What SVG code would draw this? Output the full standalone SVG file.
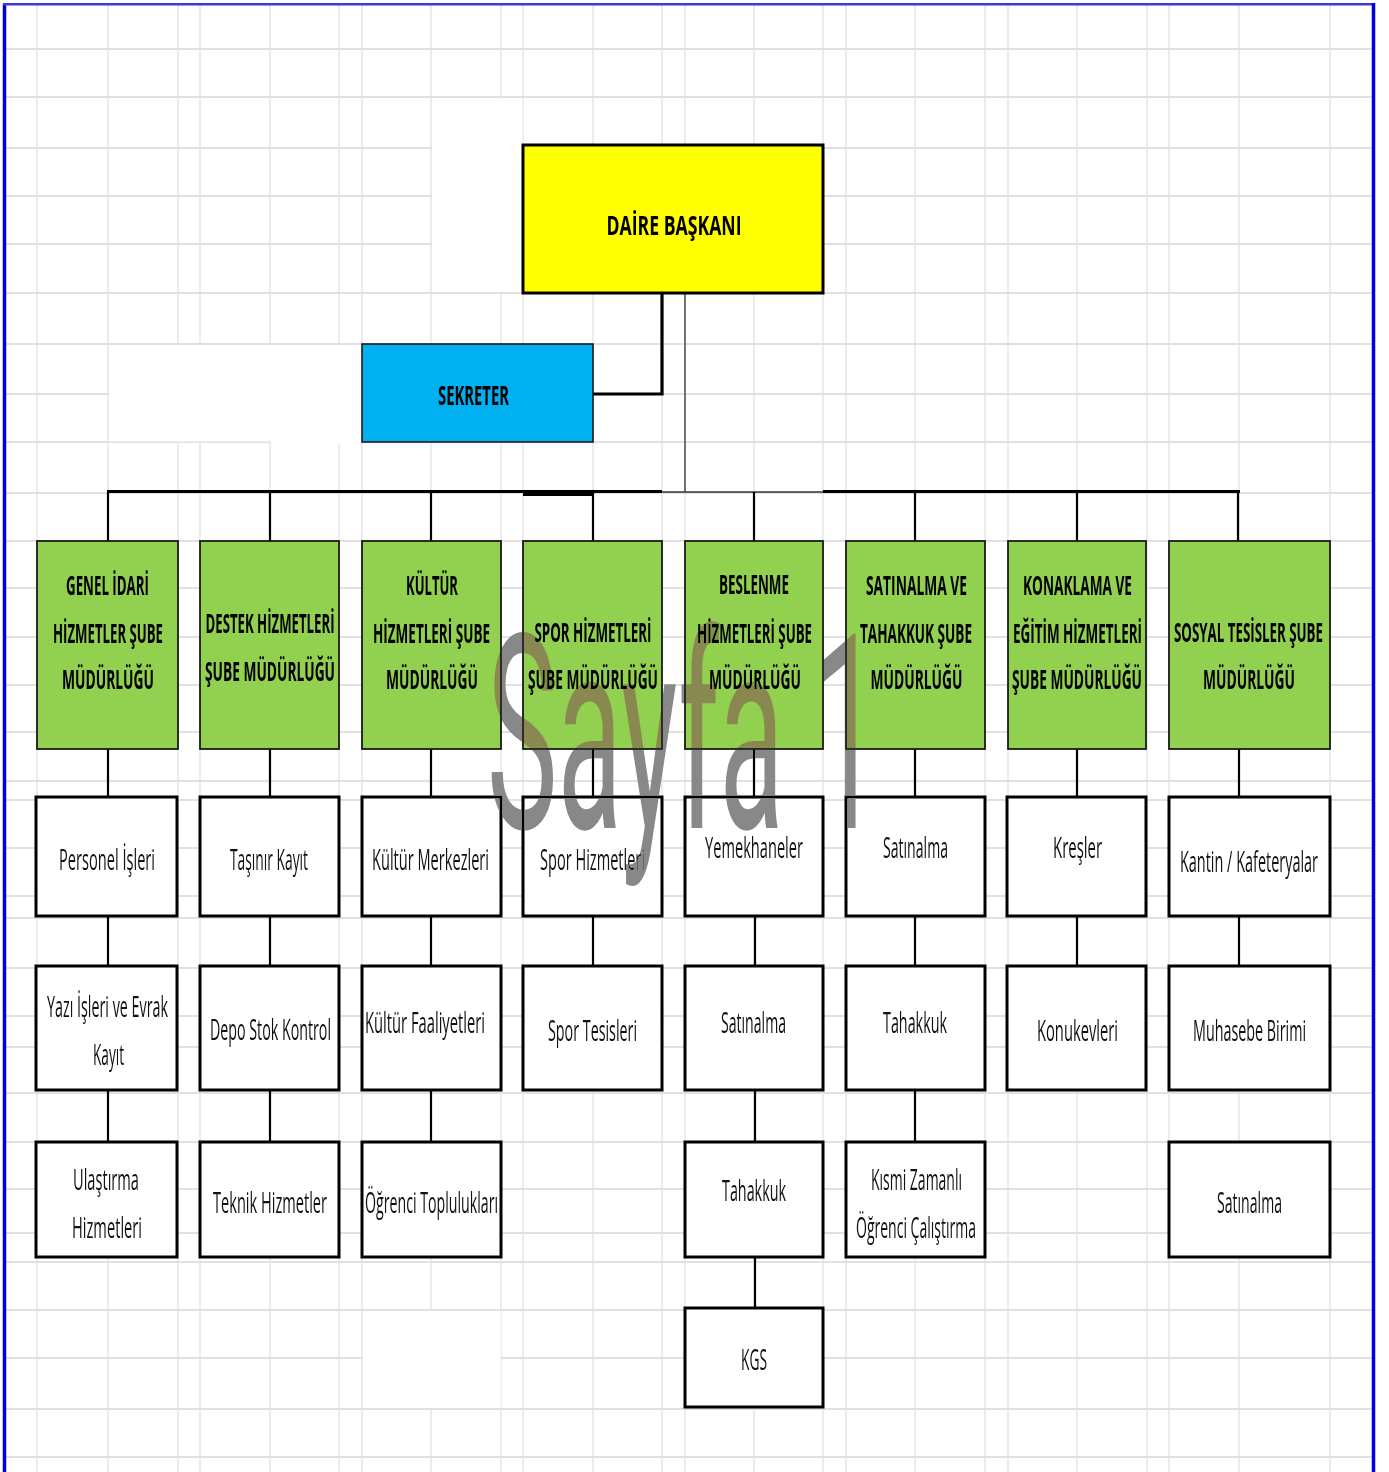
<svg xmlns="http://www.w3.org/2000/svg" width="1389" height="1472" viewBox="0 0 1389 1472">
<style>
.gh{stroke:#d8d8d8;stroke-width:1.6;fill:none}
.gv{stroke:#e0e0e0;stroke-width:1.2;fill:none}
.g{fill:#92d050;stroke:#1a1a1a;stroke-width:1.8}
.w{fill:#fff;stroke:#000;stroke-width:3}
.tb{font-family:"Open Sans","Liberation Sans",sans-serif;font-weight:700;font-size:27px;text-anchor:middle;fill:#000}
.tr{font-family:"Open Sans","Liberation Sans",sans-serif;font-weight:400;font-size:29px;text-anchor:middle;fill:#111}
.c{stroke:#000;stroke-width:2.2;fill:none}
.ck{stroke:#000;stroke-width:3.2;fill:none}
.cn{stroke:#333;stroke-width:1.3;fill:none}
.wm{font-family:Roboto,"Liberation Sans",sans-serif;font-weight:400;font-size:272px;fill:#888;mix-blend-mode:darken}
</style>
<rect x="0" y="0" width="1389" height="1472" fill="#fff"/>
<g id="grid">
<path class="gh" d="M5 49H1373M5 97H1373M5 148H1373M5 196H1373M5 244H1373M5 293H1373M5 344H1373M5 394H1373M5 442H1373M5 493H1373M5 541H1373M5 588H1373M5 637H1373M5 685H1373M5 732H1373M5 781H1373M5 800H1373M5 848H1373M5 896H1373M5 918H1373M5 968H1373M5 1016H1373M5 1047H1373M5 1093H1373M5 1142H1373M5 1189H1373M5 1233H1373M5 1262H1373M5 1310H1373M5 1358H1373M5 1409H1373M5 1457H1373"/>
<path class="gv" d="M37 4V1472M108 4V1472M178 4V1472M200 4V1472M270 4V1472M339 4V1472M362 4V1472M431 4V1472M501 4V1472M523 4V1472M593 4V1472M662 4V1472M685 4V1472M754 4V1472M823 4V1472M846 4V1472M915 4V1472M985 4V1472M1008 4V1472M1077 4V1472M1147 4V1472M1169 4V1472M1239 4V1472M1330 4V1472"/>
<rect x="432" y="98.5" width="90.5" height="193.5" fill="#fff"/>
<rect x="109" y="345" width="252.5" height="96.5" fill="#fff"/>
<rect x="271" y="440" width="90.5" height="4" fill="#fff"/>
<rect x="363" y="1311" width="137.5" height="97" fill="#fff"/>
</g>
<g id="frame" fill="none">
<path d="M4.5 4V1472" stroke="#0000d8" stroke-width="3.5"/>
<path d="M3 4.3H1375" stroke="#3a3ae0" stroke-width="2.6"/>
<path d="M1373.5 3V1472" stroke="#0000d8" stroke-width="3.5"/>
</g>
<g id="connectors">
<path class="ck" d="M662 293V394H593"/>
<path class="cn" d="M685 293V492M662 492H823"/>
<path class="ck" d="M107 491.5H662M823 491.5H1240"/>
<rect x="523" y="490" width="70" height="6" fill="#000"/>
<path class="c" d="M108 492V541M270 492V541M431 492V541M593 492V541M754 492V541M915 492V541M1077 492V541M1238 492V541"/>
<path class="c" d="M108 749V797M270 749V797M431 749V797M593 749V797M754 749V797M915 749V797M1077 749V797M1239 749V797"/>
<path class="c" d="M108 916V966M270 916V966M431 916V966M593 916V966M755 916V966M915 916V966M1077 916V966M1239 916V966"/>
<path class="c" d="M108 1090V1142M270 1090V1142M431 1090V1142M755 1090V1142M915 1090V1142"/>
<path class="c" d="M755 1257V1308"/>
</g>
<g id="daire-baskani"><rect x="523" y="145" width="300" height="148" fill="#ffff00" stroke="#000" stroke-width="3"/><text class="tb" x="674" y="235" font-size="39" textLength="135" lengthAdjust="spacingAndGlyphs">DAİRE BAŞKANI</text></g>
<g id="sekreter"><rect x="362" y="344" width="231" height="98" fill="#00b0f0" stroke="#1a1a1a" stroke-width="1.6"/><text class="tb" x="473.5" y="405" font-size="31" textLength="71" lengthAdjust="spacingAndGlyphs">SEKRETER</text></g>
<g id="genel-idari"><rect class="g" x="37" y="541" width="141" height="208"/><text class="tb" x="107.5" y="595" textLength="83" lengthAdjust="spacingAndGlyphs">GENEL İDARİ</text><text class="tb" x="108" y="643" textLength="110" lengthAdjust="spacingAndGlyphs">HİZMETLER ŞUBE</text><text class="tb" x="108" y="689" textLength="92" lengthAdjust="spacingAndGlyphs">MÜDÜRLÜĞÜ</text></g>
<g id="destek"><rect class="g" x="200" y="541" width="139" height="208"/><text class="tb" x="270" y="633" textLength="129" lengthAdjust="spacingAndGlyphs">DESTEK HİZMETLERİ</text><text class="tb" x="270" y="681" textLength="130" lengthAdjust="spacingAndGlyphs">ŞUBE MÜDÜRLÜĞÜ</text></g>
<g id="kultur"><rect class="g" x="362" y="541" width="139" height="208"/><text class="tb" x="432" y="595" textLength="52" lengthAdjust="spacingAndGlyphs">KÜLTÜR</text><text class="tb" x="431.5" y="643" textLength="117" lengthAdjust="spacingAndGlyphs">HİZMETLERİ ŞUBE</text><text class="tb" x="432" y="689" textLength="92" lengthAdjust="spacingAndGlyphs">MÜDÜRLÜĞÜ</text></g>
<g id="spor"><rect class="g" x="523" y="541" width="139" height="208"/><text class="tb" x="593" y="642" textLength="117" lengthAdjust="spacingAndGlyphs">SPOR HİZMETLERİ</text><text class="tb" x="593" y="689" textLength="130" lengthAdjust="spacingAndGlyphs">ŞUBE MÜDÜRLÜĞÜ</text></g>
<g id="beslenme"><rect class="g" x="685" y="541" width="138" height="208"/><text class="tb" x="754" y="594" textLength="70" lengthAdjust="spacingAndGlyphs">BESLENME</text><text class="tb" x="754.5" y="643" textLength="115" lengthAdjust="spacingAndGlyphs">HİZMETLERİ ŞUBE</text><text class="tb" x="755" y="689" textLength="92" lengthAdjust="spacingAndGlyphs">MÜDÜRLÜĞÜ</text></g>
<g id="satinalma-tahakkuk"><rect class="g" x="846" y="541" width="139" height="208"/><text class="tb" x="916.5" y="595" textLength="101" lengthAdjust="spacingAndGlyphs">SATINALMA VE</text><text class="tb" x="916" y="643" textLength="112" lengthAdjust="spacingAndGlyphs">TAHAKKUK ŞUBE</text><text class="tb" x="916.5" y="689" textLength="92" lengthAdjust="spacingAndGlyphs">MÜDÜRLÜĞÜ</text></g>
<g id="konaklama"><rect class="g" x="1008" y="541" width="138" height="208"/><text class="tb" x="1077.5" y="595" textLength="109" lengthAdjust="spacingAndGlyphs">KONAKLAMA VE</text><text class="tb" x="1077.5" y="643" textLength="129" lengthAdjust="spacingAndGlyphs">EĞİTİM HİZMETLERİ</text><text class="tb" x="1077" y="689" textLength="130" lengthAdjust="spacingAndGlyphs">ŞUBE MÜDÜRLÜĞÜ</text></g>
<g id="sosyal-tesisler"><rect class="g" x="1169" y="541" width="161" height="208"/><text class="tb" x="1248.5" y="642" textLength="149" lengthAdjust="spacingAndGlyphs">SOSYAL TESİSLER ŞUBE</text><text class="tb" x="1249" y="689" textLength="92" lengthAdjust="spacingAndGlyphs">MÜDÜRLÜĞÜ</text></g>
<g id="personel"><rect class="w" x="36" y="797" width="141" height="119"/><text class="tr" x="107" y="870" textLength="96" lengthAdjust="spacingAndGlyphs">Personel İşleri</text></g>
<g id="tasinir"><rect class="w" x="200" y="797" width="139" height="119"/><text class="tr" x="269" y="870" textLength="78" lengthAdjust="spacingAndGlyphs">Taşınır Kayıt</text></g>
<g id="kultur-merkezleri"><rect class="w" x="362" y="797" width="139" height="119"/><text class="tr" x="430.5" y="870" textLength="117" lengthAdjust="spacingAndGlyphs">Kültür Merkezleri</text></g>
<g id="spor-hizmetleri"><rect class="w" x="523" y="797" width="139" height="119"/><text class="tr" x="592.5" y="870" textLength="105" lengthAdjust="spacingAndGlyphs">Spor Hizmetleri</text></g>
<g id="yemekhaneler"><rect class="w" x="685" y="797" width="138" height="119"/><text class="tr" x="754" y="858" textLength="98" lengthAdjust="spacingAndGlyphs">Yemekhaneler</text></g>
<g id="satinalma-6"><rect class="w" x="846" y="797" width="139" height="119"/><text class="tr" x="915.5" y="858" textLength="65" lengthAdjust="spacingAndGlyphs">Satınalma</text></g>
<g id="kresler"><rect class="w" x="1007" y="797" width="139" height="119"/><text class="tr" x="1077.5" y="858" textLength="49" lengthAdjust="spacingAndGlyphs">Kreşler</text></g>
<g id="kantin"><rect class="w" x="1169" y="797" width="161" height="119"/><text class="tr" x="1249" y="872" textLength="138" lengthAdjust="spacingAndGlyphs">Kantin / Kafeteryalar</text></g>
<g id="yazi-isleri"><rect class="w" x="36" y="966" width="141" height="124"/><text class="tr" x="107.5" y="1017" textLength="121" lengthAdjust="spacingAndGlyphs">Yazı İşleri ve Evrak</text><text class="tr" x="108.5" y="1065" textLength="31" lengthAdjust="spacingAndGlyphs">Kayıt</text></g>
<g id="depo-stok"><rect class="w" x="200" y="966" width="139" height="124"/><text class="tr" x="270.5" y="1040" textLength="121" lengthAdjust="spacingAndGlyphs">Depo Stok Kontrol</text></g>
<g id="kultur-faaliyetleri"><rect class="w" x="362" y="966" width="139" height="124"/><text class="tr" x="425" y="1033" textLength="120" lengthAdjust="spacingAndGlyphs">Kültür Faaliyetleri</text></g>
<g id="spor-tesisleri"><rect class="w" x="523" y="966" width="139" height="124"/><text class="tr" x="592.5" y="1041" textLength="89" lengthAdjust="spacingAndGlyphs">Spor Tesisleri</text></g>
<g id="satinalma-5"><rect class="w" x="685" y="966" width="138" height="124"/><text class="tr" x="753.5" y="1033" textLength="65" lengthAdjust="spacingAndGlyphs">Satınalma</text></g>
<g id="tahakkuk-6"><rect class="w" x="846" y="966" width="139" height="124"/><text class="tr" x="915" y="1033" textLength="64" lengthAdjust="spacingAndGlyphs">Tahakkuk</text></g>
<g id="konukevleri"><rect class="w" x="1007" y="966" width="139" height="124"/><text class="tr" x="1077.5" y="1041" textLength="81" lengthAdjust="spacingAndGlyphs">Konukevleri</text></g>
<g id="muhasebe"><rect class="w" x="1169" y="966" width="161" height="124"/><text class="tr" x="1249.5" y="1041" textLength="113" lengthAdjust="spacingAndGlyphs">Muhasebe Birimi</text></g>
<g id="ulastirma"><rect class="w" x="36" y="1142" width="141" height="115"/><text class="tr" x="106" y="1190" textLength="66" lengthAdjust="spacingAndGlyphs">Ulaştırma</text><text class="tr" x="107" y="1238" textLength="70" lengthAdjust="spacingAndGlyphs">Hizmetleri</text></g>
<g id="teknik"><rect class="w" x="200" y="1142" width="139" height="115"/><text class="tr" x="270" y="1213" textLength="114" lengthAdjust="spacingAndGlyphs">Teknik Hizmetler</text></g>
<g id="ogrenci-topluluklari"><rect class="w" x="362" y="1142" width="139" height="115"/><text class="tr" x="431.5" y="1213" textLength="133" lengthAdjust="spacingAndGlyphs">Öğrenci Toplulukları</text></g>
<g id="tahakkuk-5"><rect class="w" x="685" y="1142" width="138" height="115"/><text class="tr" x="754" y="1201" textLength="64" lengthAdjust="spacingAndGlyphs">Tahakkuk</text></g>
<g id="kismi-zamanli"><rect class="w" x="846" y="1142" width="139" height="115"/><text class="tr" x="916.5" y="1190" textLength="91" lengthAdjust="spacingAndGlyphs">Kısmi Zamanlı</text><text class="tr" x="916" y="1238" textLength="120" lengthAdjust="spacingAndGlyphs">Öğrenci Çalıştırma</text></g>
<g id="satinalma-8"><rect class="w" x="1169" y="1142" width="161" height="115"/><text class="tr" x="1249.5" y="1213" textLength="65" lengthAdjust="spacingAndGlyphs">Satınalma</text></g>
<g id="kgs"><rect class="w" x="685" y="1308" width="138" height="99"/><text class="tr" x="754" y="1370" textLength="26" lengthAdjust="spacingAndGlyphs">KGS</text></g>
<g id="watermark"><text class="wm" x="487" y="828" textLength="393" lengthAdjust="spacingAndGlyphs">Sayfa 1</text></g>
</svg>
